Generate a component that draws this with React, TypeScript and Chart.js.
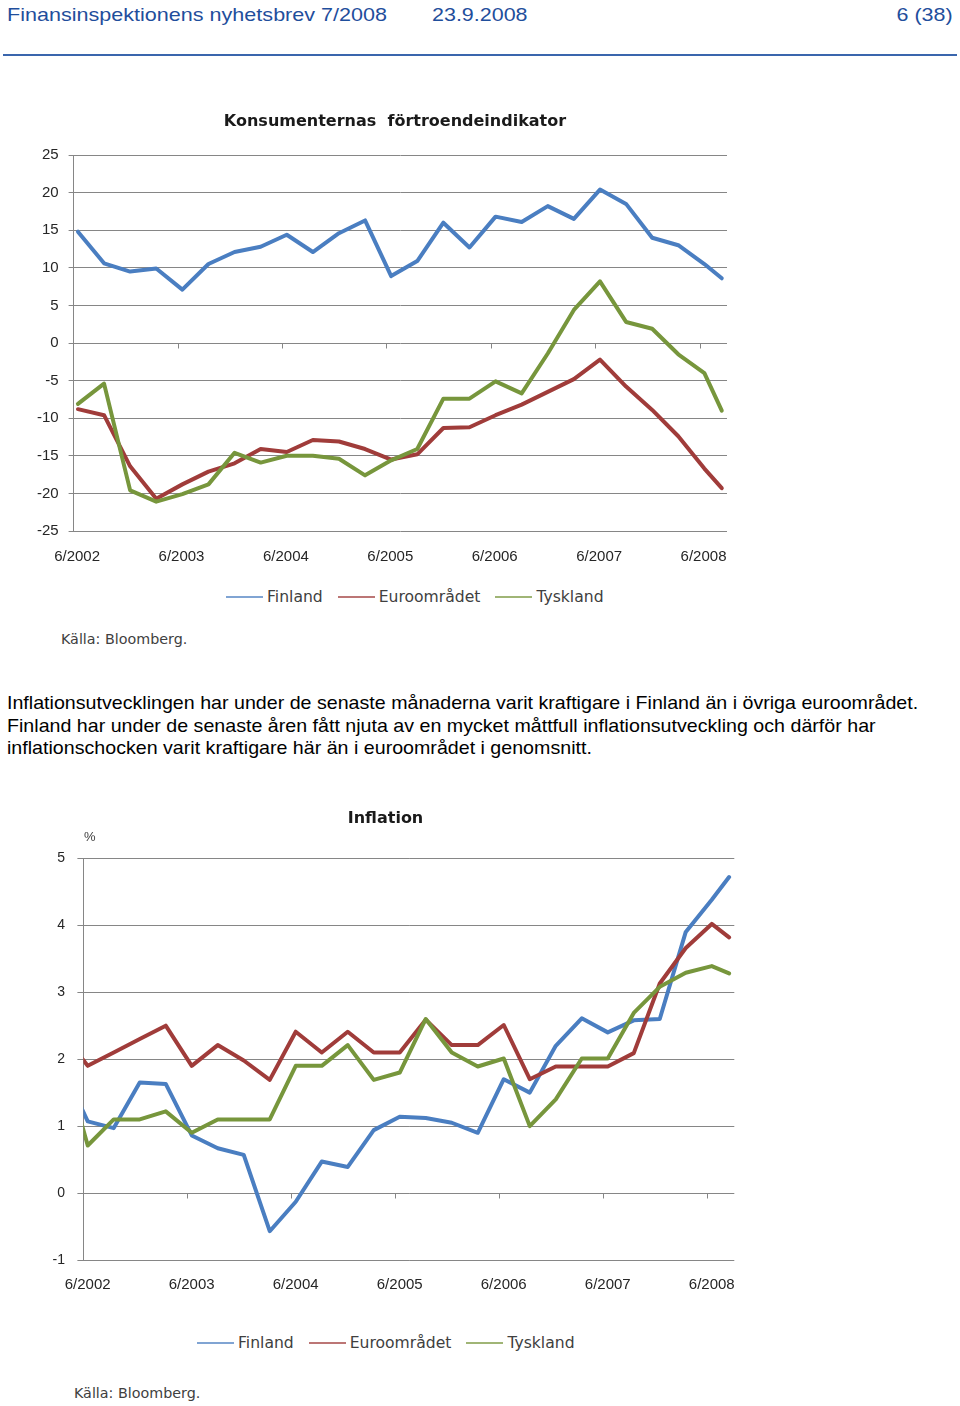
import React, { useEffect, useRef } from 'react';
import { Chart, registerables } from 'chart.js';

Chart.register(...registerables);

// ---------------- data ----------------
const confidenceDates = [
  '2002-06', '2002-09', '2002-12', '2003-03', '2003-06', '2003-09', '2003-12',
  '2004-03', '2004-06', '2004-09', '2004-12', '2005-03', '2005-06', '2005-09',
  '2005-12', '2006-03', '2006-06', '2006-09', '2006-12', '2007-03', '2007-06',
  '2007-09', '2007-12', '2008-03', '2008-06', '2008-08',
];
const confidenceFinland = [
  14.8, 10.6, 9.5, 9.9, 7.1, 10.5, 12.1, 12.8, 14.4, 12.1, 14.6, 16.3, 8.9,
  10.9, 16.0, 12.7, 16.8, 16.1, 18.2, 16.5, 20.4, 18.5, 14.0, 13.0, 10.5, 8.6,
];
const confidenceEuro = [
  -8.8, -9.6, -16.4, -20.7, -18.8, -17.1, -16.0, -14.1, -14.5, -12.9, -13.1,
  -14.1, -15.5, -14.8, -11.3, -11.2, -9.6, -8.2, -6.5, -4.8, -2.2, -5.8, -8.9,
  -12.4, -16.7, -19.3,
];
const confidenceGermany = [
  -8.1, -5.4, -19.6, -21.1, -20.1, -18.8, -14.6, -15.9, -15.0, -15.0, -15.4,
  -17.6, -15.6, -14.1, -7.4, -7.4, -5.1, -6.7, -1.4, 4.4, 8.2, 2.8, 1.9, -1.5,
  -4.0, -9.0,
];

const inflationDates = [
  '2002-03', '2002-06', '2002-09', '2002-12', '2003-03', '2003-06', '2003-09',
  '2003-12', '2004-03', '2004-06', '2004-09', '2004-12', '2005-03', '2005-06',
  '2005-09', '2005-12', '2006-03', '2006-06', '2006-09', '2006-12', '2007-03',
  '2007-06', '2007-09', '2007-12', '2008-03', '2008-06', '2008-08',
];
const inflationFinland = [
  1.9, 1.07, 0.97, 1.65, 1.63, 0.86, 0.67, 0.57, -0.57, -0.13, 0.47, 0.39,
  0.94, 1.14, 1.12, 1.05, 0.9, 1.7, 1.5, 2.2, 2.61, 2.4, 2.58, 2.6, 3.9, 4.38,
  4.72,
];
const inflationEuro = [
  2.4, 1.9, 2.1, 2.3, 2.5, 1.9, 2.21, 1.98, 1.69, 2.41, 2.1, 2.41, 2.1, 2.1,
  2.59, 2.21, 2.21, 2.51, 1.7, 1.89, 1.89, 1.89, 2.09, 3.13, 3.66, 4.02, 3.82,
];
const inflationGermany = [
  2.1, 0.71, 1.1, 1.1, 1.22, 0.9, 1.1, 1.1, 1.1, 1.9, 1.9, 2.21, 1.69, 1.8,
  2.6, 2.1, 1.89, 2.01, 1.0, 1.4, 2.01, 2.01, 2.69, 3.08, 3.29, 3.39, 3.28,
];

const xTickLabels = ['6/2002', '6/2003', '6/2004', '6/2005', '6/2006', '6/2007', '6/2008'];
const seriesNames = ['Finland', 'Euroområdet', 'Tyskland'];
const seriesColors = ['#4a7ec1', '#a03c3a', '#77963c'];

const paragraphLines = [
  'Inflationsutvecklingen har under de senaste månaderna varit kraftigare i Finland än i övriga euroområdet.',
  'Finland har under de senaste åren fått njuta av en mycket måttfull inflationsutveckling och därför har',
  'inflationschocken varit kraftigare här än i euroområdet i genomsnitt.',
];

// ---------------- helpers ----------------
const GRID = '#868686';
const AXIS_TEXT = '#262626';
const X_MAX = 75.1; // axis end in months after 6/2002

const monthOffset = (year: number, month: number) => (year - 2002) * 12 + (month - 6);
const dateToX = (d: string) => {
  const [y, m] = d.split('-').map(Number);
  return monthOffset(y, m) + 0.5;
};
const tickToX = (t: string) => {
  const [m, y] = t.split('/').map(Number);
  return monthOffset(y, m);
};

type Spec = {
  left: number; top: number; width: number; height: number;
  title: string; dates: string[]; series: number[][];
  yMin: number; yMax: number; yStep: number;
  padLeft: number; padRight: number; titlePadTop: number; titlePadBottom: number;
  xAxisHeight: number; xLabelPad: number; xLabelOffset: number;
  yAxisWidth: number; rightSpacer: number; yLabelPad: number; yTickLen: number; yFontSize: number;
};

const makeZeroTicks = (values: number[]) => ({
  id: 'zeroTicks',
  beforeDatasetsDraw(chart: any) {
    const { ctx, scales } = chart;
    const xs = scales.x;
    const ys = scales.y;
    const y0 = Math.floor(ys.getPixelForValue(0)) + 0.5;
    ctx.save();
    ctx.strokeStyle = GRID;
    ctx.lineWidth = 1;
    ctx.beginPath();
    values.forEach((v) => {
      if (v <= xs.min) return;
      const px = Math.floor(xs.getPixelForValue(v)) + 0.5;
      ctx.moveTo(px, y0);
      ctx.lineTo(px, y0 + 5);
    });
    ctx.stroke();
    ctx.restore();
  },
});

function LineChart({ spec }: { spec: Spec }) {
  const ref = useRef<HTMLCanvasElement | null>(null);
  useEffect(() => {
    const canvas = ref.current;
    if (!canvas) return;
    const xs = spec.dates.map(dateToX);
    const tickValues = xTickLabels.map(tickToX);
    const chart = new Chart(canvas, {
      type: 'line',
      data: {
        datasets: spec.series.map((vals, i) => ({
          label: seriesNames[i],
          data: vals.map((v, j) => ({ x: xs[j], y: v })),
          borderColor: seriesColors[i],
          backgroundColor: seriesColors[i],
          borderWidth: 4,
          pointRadius: 0,
          tension: 0,
          borderJoinStyle: 'round',
          borderCapStyle: 'round',
          order: 2 - i,
        })),
      },
      options: {
        responsive: false,
        animation: false,
        devicePixelRatio: 1,
        layout: { padding: { left: spec.padLeft, right: spec.padRight, top: 0, bottom: 0 } },
        plugins: {
          legend: { display: false },
          tooltip: { enabled: false },
          title: {
            display: true,
            text: spec.title,
            fullSize: true,
            align: 'center',
            color: '#1a1a1a',
            font: { family: '"DejaVu Sans", sans-serif', size: 16, weight: 'bold', lineHeight: 1.2 },
            padding: { top: spec.titlePadTop, bottom: spec.titlePadBottom },
          },
        },
        scales: {
          x: {
            type: 'linear',
            min: 0,
            max: X_MAX,
            afterBuildTicks: (s: any) => {
              s.ticks = tickValues.map((v) => ({ value: v }));
            },
            afterFit: (s: any) => {
              s.height = spec.xAxisHeight;
            },
            grid: { display: false, drawTicks: false },
            border: { display: false },
            ticks: {
              autoSkip: false,
              maxRotation: 0,
              padding: spec.xLabelPad,
              labelOffset: spec.xLabelOffset,
              color: AXIS_TEXT,
              font: { family: '"Liberation Sans", Arial, sans-serif', size: 15 },
              callback: (_v: any, i: number) => xTickLabels[i],
            },
          },
          y: {
            type: 'linear',
            position: 'left',
            min: spec.yMin,
            max: spec.yMax,
            afterFit: (s: any) => {
              s.width = spec.yAxisWidth;
            },
            grid: { color: GRID, lineWidth: 1, drawTicks: true, tickLength: spec.yTickLen, tickColor: GRID },
            border: { display: true, color: GRID, width: 1 },
            ticks: {
              stepSize: spec.yStep,
              padding: spec.yLabelPad,
              color: AXIS_TEXT,
              font: { family: '"Liberation Sans", Arial, sans-serif', size: spec.yFontSize },
            },
          },
          spacer: {
            type: 'linear',
            position: 'right',
            display: true,
            grid: { display: false, drawTicks: false },
            border: { display: false },
            ticks: { display: false },
            afterFit: (s: any) => {
              s.width = spec.rightSpacer;
            },
          },
        },
      } as any,
      plugins: [makeZeroTicks(tickValues)],
    });
    return () => chart.destroy();
  }, []);
  return (
    <canvas
      ref={ref}
      width={spec.width}
      height={spec.height}
      style={{ position: 'absolute', left: spec.left, top: spec.top, width: spec.width, height: spec.height }}
    />
  );
}

function Legend({ left, top }: { left: number; top: number }) {
  return (
    <div
      style={{
        position: 'absolute', left, top, height: 20, display: 'flex', alignItems: 'center',
        fontFamily: '"DejaVu Sans", sans-serif', fontSize: 15.6, color: '#404040', whiteSpace: 'nowrap',
      }}
    >
      {seriesNames.map((n, i) => (
        <div key={n} style={{ display: 'flex', alignItems: 'center', marginRight: i < seriesNames.length - 1 ? 15 : 0 }}>
          <span style={{ display: 'inline-block', width: 37, height: 2, background: seriesColors[i], opacity: 0.7, marginRight: 4 }} />
          <span>{n}</span>
        </div>
      ))}
    </div>
  );
}

const sourceStyle: React.CSSProperties = {
  position: 'absolute', fontFamily: '"DejaVu Sans", sans-serif', fontSize: 14.3,
  lineHeight: '20px', color: '#404040', whiteSpace: 'nowrap',
};

const confidenceSpec: Spec = {
  left: 0, top: 95, width: 780, height: 480,
  title: 'Konsumenternas  förtroendeindikator',
  dates: confidenceDates,
  series: [confidenceFinland, confidenceEuro, confidenceGermany],
  yMin: -25, yMax: 25, yStep: 5,
  padLeft: 23.6, padRight: 13.6, titlePadTop: 17.4, titlePadBottom: 23.4,
  xAxisHeight: 44, xLabelPad: 17, xLabelOffset: 3.5,
  yAxisWidth: 50, rightSpacer: 39.4, yLabelPad: 10, yTickLen: 5, yFontSize: 15,
};

const inflationSpec: Spec = {
  left: 0, top: 790, width: 790, height: 530,
  title: 'Inflation',
  dates: inflationDates,
  series: [inflationFinland, inflationEuro, inflationGermany],
  yMin: -1, yMax: 5, yStep: 1,
  padLeft: 33.4, padRight: 52.4, titlePadTop: 19.4, titlePadBottom: 29.7,
  xAxisHeight: 60, xLabelPad: 16, xLabelOffset: 4.3,
  yAxisWidth: 50, rightSpacer: 3.3, yLabelPad: 12.4, yTickLen: 6, yFontSize: 14,
};

export default function App() {
  const headerText: React.CSSProperties = {
    position: 'absolute', top: 4, fontFamily: '"Liberation Sans", Arial, sans-serif',
    fontSize: 19, lineHeight: '22px', color: '#1f4e9c', whiteSpace: 'nowrap',
  };
  return (
    <div style={{ position: 'absolute', left: 0, top: 0, width: 960, height: 1406, background: '#fff', overflow: 'hidden' }}>
      <div style={{ ...headerText, left: 7, transform: 'scaleX(1.135)', transformOrigin: 'left top' }}>
        Finansinspektionens nyhetsbrev 7/2008
      </div>
      <div style={{ ...headerText, left: 432, transform: 'scaleX(1.13)', transformOrigin: 'left top' }}>
        23.9.2008
      </div>
      <div style={{ ...headerText, right: 7, transform: 'scaleX(1.13)', transformOrigin: 'right top' }}>
        6 (38)
      </div>
      <div style={{ position: 'absolute', left: 3, top: 54, width: 954, height: 2, background: '#3a66ad' }} />

      <LineChart spec={confidenceSpec} />
      <Legend left={226} top={587} />
      <div style={{ ...sourceStyle, left: 61, top: 629 }}>Källa: Bloomberg.</div>

      {paragraphLines.map((line, i) => (
        <div
          key={i}
          style={{
            position: 'absolute', left: 7, top: 692 + i * 22.5, fontFamily: '"Liberation Sans", Arial, sans-serif',
            fontSize: 17.8, lineHeight: '22.5px', color: '#000', whiteSpace: 'nowrap',
            transform: 'scaleX(1.104)', transformOrigin: 'left top',
          }}
        >
          {line}
        </div>
      ))}

      <LineChart spec={inflationSpec} />
      <div style={{ position: 'absolute', left: 84, top: 829, fontFamily: '"Liberation Sans", Arial, sans-serif', fontSize: 13, lineHeight: '16px', color: '#404040' }}>%</div>
      <Legend left={197} top={1333} />
      <div style={{ ...sourceStyle, left: 74, top: 1383 }}>Källa: Bloomberg.</div>
    </div>
  );
}
